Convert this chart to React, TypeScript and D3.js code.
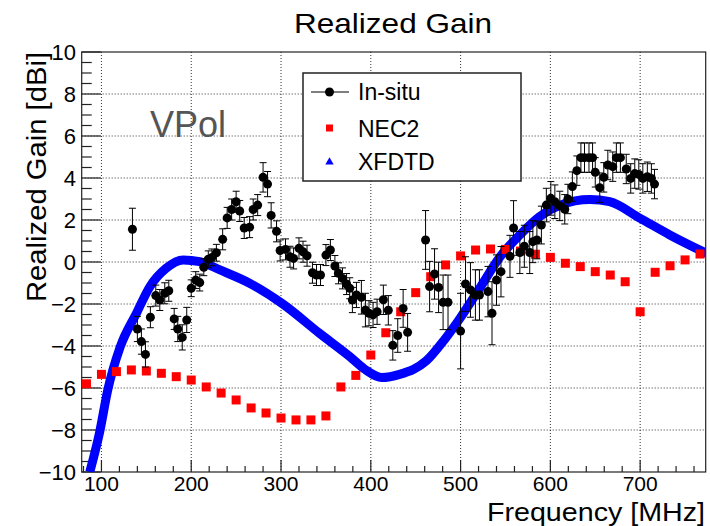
import React from "react";
import * as d3 from "d3";

// In-situ measurements: frequency [MHz], gain [dBi], error [dB]
const insituFreq = [134.5,140,144.5,149,154.5,160.5,165,170.5,175,181,185,190,195,200,205,209.5,214,219,223,228,235,240,245,250,254,259,265,269,274,280,285,289,295,299,305,310,314,320,324.5,329,335,339.5,344,350,355,360,364,368.5,373,376.5,379.5,384,389.5,394,398,402.5,407,414,419.5,424.5,430,436,441,461,465.5,471,475.5,480.5,486,500,505.5,511,516.5,521,530.5,535,540,545,555,559,566,571,577,580.5,585,590,595.5,600.5,605,610.5,616,619.5,624.5,629.5,634,638,643,647,650,655,659.5,664,669.5,673.5,678,684.5,689.5,694,698.5,703,708,712.5,716];
const insituGain = [1.56,-3.19,-3.79,-4.4,-2.63,-1.6,-1.81,-1.49,-1.37,-2.71,-3.19,-3.59,-2.76,-1.25,-0.86,-0.98,-0.25,0.13,0.22,0.44,1.08,2.1,2.5,2.87,2.43,1.62,1.66,2.5,2.71,4.03,3.71,2.22,1.46,0.55,0.6,0.25,0.17,0.65,0.49,0.3,-0.51,-0.62,-0.62,0.33,0.57,-0.19,-0.54,-0.78,-1.05,-1.25,-1.81,-1.57,-1.68,-2.29,-2.44,-2.52,-2.37,-1.8,-2.3,-3.97,-3.5,-2.21,-3.35,1.05,-1.17,-0.57,-1.21,-1.92,-1.92,-3.29,-1.05,-1.33,-1.57,-1.57,-1.41,-2.44,-0.86,-0.46,0.27,1.62,0.45,0.75,0.45,0.97,1.05,1.76,2.71,3.03,2.87,2.67,2.51,3.0,3.59,4.35,4.97,4.97,4.97,4.97,4.27,3.54,4.03,4.62,4.54,4.97,4.97,4.43,3.98,4.21,4.17,3.98,4.06,3.98,3.71];
const insituErr = [1.0,0.6,0.6,0.6,0.5,0.5,0.5,0.5,0.5,0.5,0.6,0.6,0.6,0.4,0.4,0.4,0.4,0.4,0.4,0.4,0.5,0.5,0.5,0.5,0.5,0.5,0.5,0.5,0.5,0.7,0.6,0.6,0.5,0.5,0.5,0.5,0.5,0.5,0.5,0.5,0.5,0.5,0.5,0.5,0.5,0.5,0.5,0.5,0.5,0.5,0.6,0.6,0.8,0.8,0.6,0.6,0.6,0.7,0.7,0.7,0.8,0.9,0.9,1.4,1.2,1.2,1.2,1.3,1.3,1.8,1.3,1.3,1.2,1.2,1.2,1.5,1.2,1.2,1.0,1.3,1.0,1.0,1.0,1.0,0.9,0.9,0.8,0.8,0.8,0.7,0.7,0.7,0.7,0.7,0.7,0.7,0.7,0.7,0.7,0.7,0.7,0.7,0.7,0.7,0.7,0.7,0.7,0.7,0.7,0.7,0.7,0.7,0.7];

// NEC2 simulation
const necFreq = [83.3,100,116.7,133.3,150,166.7,183.3,200,216.7,233.3,250,266.7,283.3,300,316.7,333.3,350,366.7,383.3,400,416.7,433.3,450,466.7,483.3,500,516.7,533.3,550,566.7,583.3,600,616.7,633.3,650,666.7,683.3,700,716.7,733.3,750,766.7];
const necGain = [-5.8,-5.35,-5.22,-5.14,-5.19,-5.3,-5.46,-5.62,-5.95,-6.24,-6.57,-6.95,-7.19,-7.43,-7.52,-7.52,-7.33,-5.95,-5.4,-4.43,-3.37,-2.37,-1.46,-0.7,-0.14,0.29,0.57,0.62,0.6,0.52,0.37,0.22,-0.06,-0.22,-0.46,-0.62,-0.94,-2.37,-0.49,-0.18,0.1,0.38];

// XFDTD simulation
const xfFreq = [87,98,107,121,139,154,172,191,209.5,232,265,302,343,376.5,393,412,432,462,482,499,522,544,566,588,611,644,666,700,733,774];
const xfGain = [-10,-8.1,-6.1,-4.03,-2.44,-1.17,-0.3,0.1,0.02,-0.38,-1.01,-2.0,-3.4,-4.5,-5.1,-5.5,-5.35,-4.7,-3.7,-2.7,-1.2,0.25,1.29,2.16,2.71,2.98,2.87,2.08,1.29,0.41];

const xMajor = [100, 200, 300, 400, 500, 600, 700];
const yMajor = [-10, -8, -6, -4, -2, 0, 2, 4, 6, 8, 10];
const legendLabels = ["In-situ", "NEC2", "XFDTD"];

const FONT = "'Liberation Sans', Arial, Helvetica, sans-serif";

export default function App() {
  const L = 81.7, R = 705.7, T = 52, B = 472;
  const x = d3.scaleLinear().domain([78, 773]).range([L, R]);
  const y = d3.scaleLinear().domain([-10, 10]).range([B, T]);

  const xMinor = d3.range(80, 773, 20).filter((v) => v % 100 !== 0);
  const yMinor = d3.range(-10, 10.01, 0.5).filter((v) => Math.abs(v % 2) > 1e-6);

  const line = d3
    .line<number>()
    .x((_, i) => x(xfFreq[i]))
    .y((d) => y(d))
    .curve(d3.curveMonotoneX);

  const fmt = (v: number) => (v < 0 ? "\u2212" + Math.abs(v) : String(v));

  return (
    <svg width={710} height={526} style={{ position: "absolute", left: 0, top: 0, background: "#fff" }} fontFamily={FONT}>
      <defs>
        <clipPath id="frame">
          <rect x={L} y={T} width={R - L} height={B - T} />
        </clipPath>
      </defs>
      <rect x={0} y={0} width={710} height={526} fill="#fff" />
      {/* grid */}
      {xMajor.map((v) => (
        <line key={"gx" + v} x1={x(v)} x2={x(v)} y1={T} y2={B} stroke="#333" strokeWidth={1} strokeDasharray="1 2" />
      ))}
      {yMajor.filter((v) => v > -10 && v < 10).map((v) => (
        <line key={"gy" + v} x1={L} x2={R} y1={y(v)} y2={y(v)} stroke="#333" strokeWidth={1} strokeDasharray="1 2" />
      ))}
      {/* frame */}
      <rect x={L} y={T} width={R - L} height={B - T} fill="none" stroke="#222" strokeWidth={1.2} />
      {/* x ticks */}
      {xMajor.map((v) => (
        <line key={"tx" + v} x1={x(v)} x2={x(v)} y1={B} y2={B - 12} stroke="#222" strokeWidth={1.2} />
      ))}
      {xMinor.map((v) => (
        <line key={"mx" + v} x1={x(v)} x2={x(v)} y1={B} y2={B - 6} stroke="#222" strokeWidth={1.2} />
      ))}
      {/* y ticks */}
      {yMajor.map((v) => (
        <line key={"ty" + v} x1={L} x2={L + 19} y1={y(v)} y2={y(v)} stroke="#222" strokeWidth={1.2} />
      ))}
      {yMinor.map((v) => (
        <line key={"my" + v} x1={L} x2={L + 10} y1={y(v)} y2={y(v)} stroke="#222" strokeWidth={1.2} />
      ))}
      {/* tick labels */}
      {xMajor.map((v) => (
        <text key={"lx" + v} x={x(v)} y={491} textAnchor="middle" fontSize={21} fill="#000">
          {v}
        </text>
      ))}
      {yMajor.map((v) => (
        <text key={"ly" + v} x={76} y={y(v)} dy="0.36em" textAnchor="end" fontSize={22} fill="#000">
          {fmt(v)}
        </text>
      ))}
      {/* titles */}
      <text x={393} y={33} textAnchor="middle" fontSize={28} textLength={198} lengthAdjust="spacingAndGlyphs" fill="#000">
        Realized Gain
      </text>
      <text transform={`translate(46,${T}) rotate(-90)`} textAnchor="end" fontSize={28} textLength={250} lengthAdjust="spacingAndGlyphs" fill="#000">
        Realized Gain [dBi]
      </text>
      <text x={705} y={520.5} textAnchor="end" fontSize={25} textLength={218} lengthAdjust="spacingAndGlyphs" fill="#000">
        Frequency [MHz]
      </text>

      <g clipPath="url(#frame)">
        {/* XFDTD */}
        <path d={line(xfGain) || ""} fill="none" stroke="#0000ff" strokeWidth={9} />
        {/* NEC2 */}
        {necFreq.map((f, i) => (
          <rect key={"n" + i} x={x(f) - 4.5} y={y(necGain[i]) - 4.5} width={9} height={9} fill="#ff0000" />
        ))}
        {/* In-situ */}
        {insituFreq.map((f, i) => {
          const cx = x(f);
          const y1 = y(insituGain[i] + insituErr[i]);
          const y2 = y(insituGain[i] - insituErr[i]);
          return (
            <g key={"s" + i} stroke="#000" strokeWidth={1}>
              <line x1={cx} x2={cx} y1={y1} y2={y2} />
              <line x1={cx - 3.5} x2={cx + 3.5} y1={y1} y2={y1} />
              <line x1={cx - 3.5} x2={cx + 3.5} y1={y2} y2={y2} />
              <circle cx={cx} cy={y(insituGain[i])} r={4.5} fill="#000" stroke="none" />
            </g>
          );
        })}
      </g>

      <text x={150} y={137} fontSize={36} fill="#555">VPol</text>

      {/* legend */}
      <rect x={303} y={73} width={218} height={108} fill="#fff" stroke="#222" strokeWidth={1.5} />
      <line x1={311} x2={349} y1={92} y2={92} stroke="#000" strokeWidth={1.2} />
      <circle cx={329.5} cy={92} r={4.5} fill="#000" />
      <rect x={326} y={124.5} width={7} height={7} fill="#ff0000" />
      <path d={d3.symbol().type(d3.symbolTriangle).size(30)() || ""} transform="translate(329.5,162)" fill="#0000ff" />
      {legendLabels.map((t, i) => (
        <text key={t} x={358} y={[92, 128.5, 162][i]} dy="0.36em" fontSize={23} fill="#000">
          {t}
        </text>
      ))}
    </svg>
  );
}
